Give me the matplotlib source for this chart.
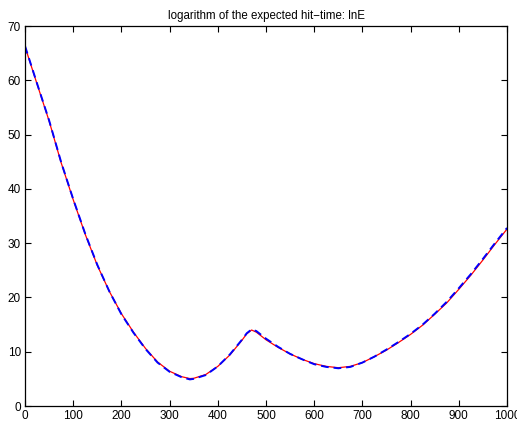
import matplotlib
matplotlib.use('Agg')
from matplotlib import pyplot as plt

# x positions of the samples
x = [0, 25, 50, 75, 100, 125, 150, 175, 200, 225, 250, 275, 300, 325, 342, 350,
     375, 400, 425, 450, 460, 470, 480, 500, 525, 550, 575, 600, 625, 650, 675,
     700, 725, 750, 775, 800, 825, 850, 875, 900, 925, 950, 975, 1000]

# lnE, computed curve (red)
lnE = [66.2, 59.3, 52.5, 44.8, 38.0, 31.6, 25.9, 21.1, 17.0, 13.6, 10.6, 8.1,
       6.4, 5.4, 5.05, 5.1, 5.8, 7.3, 9.4, 12.1, 13.3, 14.0, 13.6, 12.2, 10.8,
       9.6, 8.6, 7.8, 7.3, 7.05, 7.3, 8.0, 9.1, 10.3, 11.7, 13.2, 14.9, 16.9,
       19.0, 21.5, 24.1, 26.9, 29.8, 32.6]

# lnE, approximation (blue dashed)
lnE_approx = [66.3, 59.4, 52.6, 44.9, 38.1, 31.7, 26.0, 21.1, 16.9, 13.5, 10.5,
              8.0, 6.3, 5.3, 4.9, 5.0, 5.7, 7.3, 9.5, 12.2, 13.4, 14.1, 13.8,
              12.4, 10.9, 9.6, 8.6, 7.7, 7.2, 6.95, 7.2, 8.0, 9.1, 10.4, 11.8,
              13.3, 15.0, 17.0, 19.2, 21.7, 24.3, 27.1, 30.0, 32.8]

plt.rcParams['font.family'] = ['Liberation Sans', 'DejaVu Sans']

fig = plt.figure(figsize=(5.17, 4.25), dpi=100)
ax = fig.add_axes([0.0484, 0.0447, 0.9323, 0.8941])

ax.plot(x, lnE, c='red', lw=0.9)
ax.plot(x, lnE_approx, c='blue', lw=1.4, linestyle=(0, (4, 2.5)))

ax.set_xlim(0, 1000)
ax.set_ylim(0, 70)
ax.set_xticks(range(0, 1001, 100))
ax.set_yticks(range(0, 71, 10))
ax.tick_params(axis='both', direction='in', top=True, right=True,
               length=4.5, width=0.8, labelsize=8.5, pad=3)
for s in ax.spines.values():
    s.set_linewidth(0.9)

ax.set_title('logarithm of the expected hit\u2212time: lnE', fontsize=8.3, pad=5)

fig.savefig('out.png', dpi=100)
